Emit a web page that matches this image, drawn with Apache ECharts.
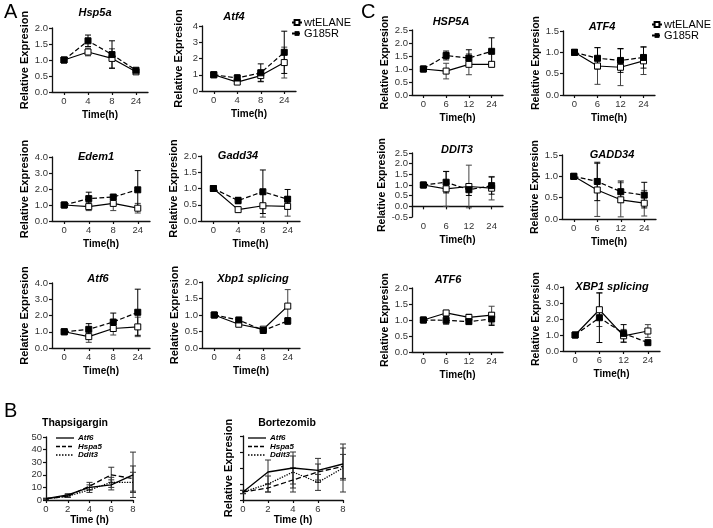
<!DOCTYPE html>
<html>
<head>
<meta charset="UTF-8">
<title>ER stress time course</title>
<script src="https://cdn.jsdelivr.net/npm/echarts@6/dist/echarts.min.js"></script>
<style>
    html, body { margin: 0; padding: 0; background: #fff; }
    #main { width: 713px; height: 528px; }
</style>
</head>
<body>
<div id="main"></div>
<script>
// time points
var timesA = ['0', '4', '8', '24'];
var timesC = ['0', '6', '12', '24'];
var timesB = [0, 2, 4, 6, 8];

// panel A: wtELANE / G185R, mean and error
var hsp5aWt = [1.0, 1.25, 1.05, 0.63], hsp5aWtErr = [0, 0.12, 0.3, 0.04];
var hsp5aMut = [1.0, 1.6, 1.17, 0.68], hsp5aMutErr = [0, 0.18, 0.43, 0.03];
var atf4Wt = [1.0, 0.55, 0.95, 1.75], atf4WtErr = [0, 0.15, 0.35, 0.95];
var atf4Mut = [1.0, 0.8, 1.12, 2.38], atf4MutErr = [0, 0.2, 0.55, 1.3];
var edem1Wt = [1.0, 0.9, 1.1, 0.8], edem1WtErr = [0, 0.25, 0.45, 0.3];
var edem1Mut = [1.0, 1.4, 1.5, 1.95], edem1MutErr = [0, 0.4, 0.05, 1.2];
var gadd34Wt = [1.0, 0.35, 0.47, 0.45], gadd34WtErr = [0, 0.07, 0.35, 0.3];
var gadd34Mut = [1.0, 0.63, 0.9, 0.67], gadd34MutErr = [0, 0.1, 0.67, 0.3];
var atf6Wt = [1.0, 0.7, 1.2, 1.3], atf6WtErr = [0, 0.35, 0.4, 0.6];
var atf6Mut = [1.0, 1.15, 1.6, 2.2], atf6MutErr = [0, 0.35, 0.55, 1.42];
var xbp1Wt = [1.0, 0.72, 0.57, 1.27], xbp1WtErr = [0, 0.03, 0.03, 0.5];
var xbp1Mut = [1.0, 0.85, 0.53, 0.82], xbp1MutErr = [0, 0.03, 0.04, 0.1];

// panel C
var HSP5AWt = [1.0, 0.92, 1.18, 1.18], HSP5AWtErr = [0, 0.3, 0.4, 0.1];
var HSP5AMut = [1.0, 1.52, 1.42, 1.68], HSP5AMutErr = [0, 0.17, 0.32, 0.52];
var ATF4Wt = [1.0, 0.68, 0.65, 0.8], ATF4WtErr = [0, 0.43, 0.43, 0.32];
var ATF4Mut = [1.0, 0.86, 0.81, 0.88], ATF4MutErr = [0, 0.25, 0.28, 0.25];
var DDIT3Wt = [1.0, 0.82, 0.93, 0.85], DDIT3WtErr = [0, 0.82, 1.0, 0.55];
var DDIT3Mut = [1.0, 1.13, 0.78, 0.97], DDIT3MutErr = [0, 0.5, 0.27, 0.4];
var GADD34Wt = [1.0, 0.68, 0.45, 0.37], GADD34WtErr = [0, 0.62, 0.4, 0.3];
var GADD34Mut = [1.0, 0.88, 0.64, 0.56], GADD34MutErr = [0, 0.45, 0.25, 0.3];
var ATF6Wt = [1.0, 1.22, 1.08, 1.15], ATF6WtErr = [0, 0.08, 0.1, 0.28];
var ATF6Mut = [1.0, 0.99, 0.95, 1.03], ATF6MutErr = [0, 0.12, 0.05, 0.2];
var XBP1Wt = [1.0, 2.58, 0.95, 1.25], XBP1WtErr = [0, 1.05, 0.4, 0.4];
var XBP1Mut = [1.0, 2.08, 1.1, 0.52], XBP1MutErr = [0, 1.55, 0.55, 0.05];

// panel B: Atf6 / Hspa5 / Ddit3
var thapAtf6 = [1, 4, 10, 12, 20], thapAtf6Err = [0.3, 1, 2, 4, 18];
var thapHspa5 = [1, 3, 11, 20, 17], thapHspa5Err = [0.3, 1, 3, 6, 10];
var thapDdit3 = [1, 3, 8, 14, 14], thapDdit3Err = [0.3, 1, 2, 4, 8];
var bortAtf6 = [1, 3.5, 4, 3.7, 4.5], bortAtf6Err = [0.2, 1.5, 2, 1.5, 2];
var bortHspa5 = [1, 1.5, 2.5, 3.5, 4.2], bortHspa5Err = [0.2, 0.5, 1.5, 1, 1.5];
var bortDdit3 = [1, 2, 3.5, 2.2, 4], bortDdit3Err = [0.2, 1, 2, 1, 3];

var FONT = 'Liberation Sans';

var panels = [
    {title: 'Hsp5a', tx: 95, ty: 13, box: [52, 28, 96, 64], cats: timesA, min: 0, max: 2, step: 0.5, dec: 1, ng: 18, fs: 11,
        wt: hsp5aWt, wtErr: hsp5aWtErr, mut: hsp5aMut, mutErr: hsp5aMutErr},
    {title: 'Atf4', tx: 234, ty: 17, box: [202, 26, 94, 65], cats: timesA, min: 0, max: 4, step: 1, dec: 0, ng: 18, fs: 11,
        wt: atf4Wt, wtErr: atf4WtErr, mut: atf4Mut, mutErr: atf4MutErr},
    {title: 'Edem1', tx: 96, ty: 157, box: [52, 157, 98, 64], cats: timesA, min: 0, max: 4, step: 1, dec: 1, ng: 18, fs: 11,
        wt: edem1Wt, wtErr: edem1WtErr, mut: edem1Mut, mutErr: edem1MutErr},
    {title: 'Gadd34', tx: 238, ty: 156, box: [201, 156, 99, 65], cats: timesA, min: 0, max: 2, step: 0.5, dec: 1, ng: 18, fs: 11,
        wt: gadd34Wt, wtErr: gadd34WtErr, mut: gadd34Mut, mutErr: gadd34MutErr},
    {title: 'Atf6', tx: 98, ty: 279, box: [52, 283, 98, 65], cats: timesA, min: 0, max: 4, step: 1, dec: 1, ng: 18, fs: 11,
        wt: atf6Wt, wtErr: atf6WtErr, mut: atf6Mut, mutErr: atf6MutErr},
    {title: 'Xbp1 splicing', tx: 253, ty: 279, box: [202, 282, 98, 66], cats: timesA, min: 0, max: 2, step: 0.5, dec: 1, ng: 18, fs: 11,
        wt: xbp1Wt, wtErr: xbp1WtErr, mut: xbp1Mut, mutErr: xbp1MutErr},
    {title: 'HSP5A', tx: 451, ty: 22, box: [412, 30, 91, 65], cats: timesC, min: 0, max: 2.5, step: 0.5, dec: 1, ng: 19, fs: 10.5,
        wt: HSP5AWt, wtErr: HSP5AWtErr, mut: HSP5AMut, mutErr: HSP5AMutErr},
    {title: 'ATF4', tx: 602, ty: 27, box: [563, 31, 92, 64], cats: timesC, min: 0, max: 1.5, step: 0.5, dec: 1, ng: 19, fs: 10.5,
        wt: ATF4Wt, wtErr: ATF4WtErr, mut: ATF4Mut, mutErr: ATF4MutErr},
    {title: 'DDIT3', tx: 457, ty: 150, box: [412, 153, 91, 64], cats: timesC, min: -0.5, max: 2.5, step: 0.5, dec: 1, ng: 19, fs: 10.5,
        wt: DDIT3Wt, wtErr: DDIT3WtErr, mut: DDIT3Mut, mutErr: DDIT3MutErr},
    {title: 'GADD34', tx: 612, ty: 155, box: [562, 155, 94, 64], cats: timesC, min: 0, max: 1.5, step: 0.5, dec: 1, ng: 19, fs: 10.5,
        wt: GADD34Wt, wtErr: GADD34WtErr, mut: GADD34Mut, mutErr: GADD34MutErr},
    {title: 'ATF6', tx: 448, ty: 280, box: [412, 288, 91, 64], cats: timesC, min: 0, max: 2, step: 0.5, dec: 1, ng: 19, fs: 10.5,
        wt: ATF6Wt, wtErr: ATF6WtErr, mut: ATF6Mut, mutErr: ATF6MutErr},
    {title: 'XBP1 splicing', tx: 612, ty: 287, box: [563, 287, 97, 64], cats: timesC, min: 0, max: 4, step: 1, dec: 1, ng: 19, fs: 10.5,
        wt: XBP1Wt, wtErr: XBP1WtErr, mut: XBP1Mut, mutErr: XBP1MutErr}
];

var bPanels = [
    {title: 'Thapsigargin', tx: 75, ty: 423, box: [46, 437, 87, 63], min: 0, max: 50, step: 10, showY: true, yName: '',
        lines: [thapAtf6, thapHspa5, thapDdit3], errs: [thapAtf6Err, thapHspa5Err, thapDdit3Err], legX: 56},
    {title: 'Bortezomib', tx: 287, ty: 423, box: [243, 436, 100, 64], min: 0, max: 8, step: 2, showY: false, yName: 'Relative Expresion',
        lines: [bortAtf6, bortHspa5, bortDdit3], errs: [bortAtf6Err, bortHspa5Err, bortDdit3Err], legX: 248}
];
var bNames = ['Atf6', 'Hspa5', 'Ddit3'];
var bDash = ['solid', 'dashed', 'dotted'];

var axisLine = {show: true, lineStyle: {color: '#111', width: 1.3}};
var axisTick = {show: true, length: 3, lineStyle: {color: '#111', width: 1.2}};
var tickLabel = {fontSize: 9.5, color: '#333', fontFamily: FONT, margin: 4};

function errBar(color) {
    return function (params, api) {
        var e = api.value(2);
        if (!e) return;
        var x = api.value(0), m = api.value(1);
        var hi = api.coord([x, m + e]);
        var lo = api.coord([x, m - e]);
        var cw = 3;
        var st = {stroke: color, lineWidth: 1};
        return {type: 'group', children: [
            {type: 'line', shape: {x1: hi[0], y1: hi[1], x2: lo[0], y2: lo[1]}, style: st},
            {type: 'line', shape: {x1: hi[0] - cw, y1: hi[1], x2: hi[0] + cw, y2: hi[1]}, style: st},
            {type: 'line', shape: {x1: lo[0] - cw, y1: lo[1], x2: lo[0] + cw, y2: lo[1]}, style: st}
        ]};
    };
}

var grids = [], xAxes = [], yAxes = [], series = [], graphics = [];

function addTitle(text, x, y, size, italic) {
    graphics.push({type: 'text', x: x, y: y, style: {text: text, align: 'center', verticalAlign: 'middle',
        fontFamily: FONT, fontSize: size, fontWeight: 'bold', fontStyle: italic ? 'italic' : 'normal', fill: '#000'}});
}

panels.forEach(function (p, gi) {
    grids.push({left: p.box[0], top: p.box[1], width: p.box[2], height: p.box[3]});
    xAxes.push({type: 'category', gridIndex: gi, data: p.cats, boundaryGap: true,
        name: 'Time(h)', nameLocation: 'middle', nameGap: 18,
        nameTextStyle: {fontFamily: FONT, fontSize: 10, fontWeight: 'bold', color: '#000'},
        axisLine: axisLine, axisTick: {show: true, alignWithLabel: true, length: 3, lineStyle: axisTick.lineStyle},
        axisLabel: tickLabel, splitLine: {show: false}});
    yAxes.push({type: 'value', gridIndex: gi, min: p.min, max: p.max, interval: p.step,
        name: 'Relative Expresion', nameLocation: 'middle', nameGap: p.ng,
        nameTextStyle: {fontFamily: FONT, fontSize: p.fs, fontWeight: 'bold', color: '#000'},
        axisLine: axisLine, axisTick: axisTick,
        axisLabel: {fontSize: 9.5, color: '#333', fontFamily: FONT, margin: 4,
            formatter: (function (d) { return function (v) { return v.toFixed(d); }; })(p.dec)},
        splitLine: {show: false}});
    addTitle(p.title, p.tx, p.ty, 11, true);

    series.push({type: 'custom', xAxisIndex: gi, yAxisIndex: gi, z: 2, renderItem: errBar('#444'),
        encode: {x: 0, y: 1}, data: p.wt.map(function (v, i) { return [i, v, p.wtErr[i]]; })});
    series.push({type: 'custom', xAxisIndex: gi, yAxisIndex: gi, z: 2, renderItem: errBar('#000'),
        encode: {x: 0, y: 1}, data: p.mut.map(function (v, i) { return [i, v, p.mutErr[i]]; })});
    series.push({name: 'wtELANE', type: 'line', xAxisIndex: gi, yAxisIndex: gi, z: 3, data: p.wt,
        symbol: 'rect', symbolSize: 6,
        itemStyle: {color: '#fff', borderColor: '#000', borderWidth: 1},
        lineStyle: {color: '#000', width: 1.2, type: 'solid'}});
    series.push({name: 'G185R', type: 'line', xAxisIndex: gi, yAxisIndex: gi, z: 4, data: p.mut,
        symbol: 'rect', symbolSize: 6,
        itemStyle: {color: '#000', borderColor: '#000'},
        lineStyle: {color: '#000', width: 1.2, type: 'dashed'}});
});

bPanels.forEach(function (p, k) {
    var gi = panels.length + k;
    grids.push({left: p.box[0], top: p.box[1], width: p.box[2], height: p.box[3]});
    xAxes.push({type: 'value', gridIndex: gi, min: 0, max: 8, interval: 2,
        name: 'Time (h)', nameLocation: 'middle', nameGap: 15,
        nameTextStyle: {fontFamily: FONT, fontSize: 10, fontWeight: 'bold', color: '#000'},
        axisLine: axisLine, axisTick: axisTick, axisLabel: tickLabel, splitLine: {show: false}});
    yAxes.push({type: 'value', gridIndex: gi, min: p.min, max: p.max, interval: p.step,
        name: p.yName, nameLocation: 'middle', nameGap: 9,
        nameTextStyle: {fontFamily: FONT, fontSize: 11, fontWeight: 'bold', color: '#000'},
        axisLine: axisLine, axisTick: axisTick,
        axisLabel: {show: p.showY, fontSize: 9.5, color: '#333', fontFamily: FONT, margin: 4},
        splitLine: {show: false}});
    addTitle(p.title, p.tx, p.ty, 10.5, false);
    p.lines.forEach(function (vals, j) {
        var err = p.errs[j];
        series.push({type: 'custom', xAxisIndex: gi, yAxisIndex: gi, z: 2, renderItem: errBar('#333'),
            encode: {x: 0, y: 1}, data: timesB.map(function (t, i) { return [t, vals[i], err[i]]; })});
        series.push({name: bNames[j], type: 'line', xAxisIndex: gi, yAxisIndex: gi, z: 3, symbol: 'none',
            data: timesB.map(function (t, i) { return [t, vals[i]]; }),
            itemStyle: {color: '#000'},
            lineStyle: {color: '#000', width: 1.3, type: bDash[j]}});
        // legend key drawn by hand: line sample + italic gene name
        var ly = 438 + j * 8.5;
        graphics.push({type: 'line', shape: {x1: p.legX, y1: ly, x2: p.legX + 18, y2: ly},
            style: {stroke: '#000', lineWidth: 1.3, lineDash: j === 0 ? null : (j === 1 ? [4, 2] : [1.5, 1.5])}});
        graphics.push({type: 'text', x: p.legX + 22, y: ly, style: {text: bNames[j], align: 'left', verticalAlign: 'middle',
            fontFamily: FONT, fontSize: 8, fontWeight: 'bold', fontStyle: 'italic', fill: '#000'}});
    });
});

// panel letters
[['A', 4, 12], ['B', 4, 411], ['C', 361, 12]].forEach(function (l) {
    graphics.push({type: 'text', x: l[1], y: l[2], style: {text: l[0], align: 'left', verticalAlign: 'middle',
        fontFamily: FONT, fontSize: 20, fill: '#000'}});
});

function mutLegend(left, top) {
    return {left: left, top: top, orient: 'vertical', itemWidth: 10, itemHeight: 6, itemGap: 0,
        data: ['wtELANE', 'G185R'],
        textStyle: {fontFamily: FONT, fontSize: 11, color: '#000', padding: [0, 0, 0, -3]}};
}

var chart = echarts.init(document.getElementById('main'));
chart.setOption({
    animation: false,
    backgroundColor: '#fff',
    grid: grids,
    xAxis: xAxes,
    yAxis: yAxes,
    legend: [mutLegend(286, 12), mutLegend(646, 14)],
    graphic: graphics,
    series: series
});
</script>
</body>
</html>
